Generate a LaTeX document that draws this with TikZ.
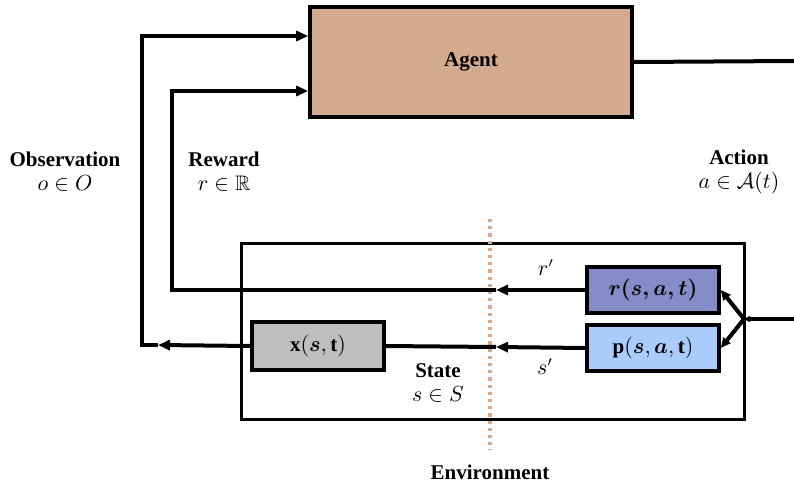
\documentclass[tikz,border=0pt]{standalone}
\usepackage{amsmath, amssymb}
\usepackage{fontspec}
\setmainfont{Liberation Serif}
\usetikzlibrary{arrows.meta, calc}

\definecolor{agentbrown}{RGB}{211,170,142}
\definecolor{rewardblue}{RGB}{132,141,199}
\definecolor{transblue}{RGB}{170,204,252}
\definecolor{stategray}{RGB}{190,190,190}
\definecolor{splitline}{RGB}{218,168,138}

\begin{document}
\begin{tikzpicture}[x=0.5pt, y=-0.5pt, line width=2pt,
		>={Triangle[length=6pt, width=5pt]},
		box/.style={draw, line width=1.8pt, inner sep=0pt, font=\fontsize{10.5}{12}\selectfont},
		label text/.style={align=center, font=\fontsize{10.5}{12}\selectfont}]
		\useasboundingbox (0,0) rectangle (794,482);
		
		%definition of the turning points
		\coordinate (obs corner) at (142,345);
		\coordinate (obs tip) at (158,345);
		\coordinate (reward corner) at (172,290);
		\coordinate (reward tip) at (496,290);
		\coordinate (state tip) at (496,347);
		\coordinate (action out) at (794,61);
		\coordinate (action in) at (794,319);
		\coordinate (junction) at (744,319);
		
		%environment
		\node [box, line width=1.5pt, minimum width=251.5pt, minimum height=88pt] (env) at (492.5,331) {};
		\draw [splitline, dotted, line width=1.6pt] (490,219) -- (490,450);
		\node [label text] (environment) at (490,472) {\textbf{Environment}};
		
		%agent
		\node [box, fill=agentbrown, minimum width=161pt, minimum height=55pt] (agent) at (471,62) {\textbf{Agent}};
		
		%model blocks
		\node [box, fill=stategray, minimum width=66pt, minimum height=24pt] (xst) at (318,346) {$\mathbf{x}(\boldsymbol{s},\mathbf{t})$};
		\node [box, fill=rewardblue, minimum width=66pt, minimum height=23pt] (rsat) at (653,290) {$\boldsymbol{r(s,a,t)}$};
		\node [box, fill=transblue, minimum width=66pt, minimum height=23pt] (psat) at (653,348) {$\mathbf{p}(\boldsymbol{s},\boldsymbol{a},\mathbf{t})$};
		
		%action
		\draw (agent.east) -- (action out);
		\draw [-{Triangle[length=3pt, width=3pt]}] (action in) -- (junction);
		\draw [-{Triangle[length=5pt, width=4.5pt]}] (junction) -- (rsat.east);
		\draw [-{Triangle[length=5pt, width=4.5pt]}] (junction) -- (psat.east);
		
		%reward
		\draw [->] (rsat.west) -- (reward tip);
		\draw [->] (reward tip) -- (reward corner) |- ($(agent.west)+(0,29)$);
		
		%state
		\draw [->] (psat.west) -- (state tip);
		\draw (state tip) -- (xst.east);
		
		%observation
		\draw [->] (xst.west) -- (obs tip);
		\draw [->] (obs tip) -- (obs corner) |- ($(agent.west)+(0,-26)$);
		
		%labels
		\node [label text] (observation) at (65,172) {\textbf{Observation}\\$o\in O$};
		\node [label text] (reward) at (224,172) {\textbf{Reward}\\$r\in\mathbb{R}$};
		\node [label text] (action) at (739,172) {\textbf{Action}\\$a\in\mathcal{A}(t)$};
		\node [label text] (state) at (438,383) {\textbf{State}\\$s\in S$};
		\node [label text] (r prime) at (546,268) {$r'$};
		\node [label text] (s prime) at (545,367) {$s'$};
	\end{tikzpicture}
\end{document}
